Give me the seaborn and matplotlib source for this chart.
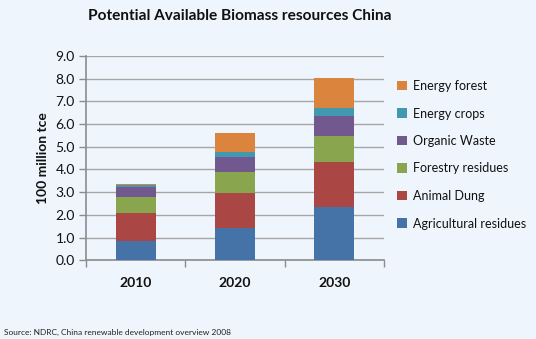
import matplotlib
matplotlib.use("Agg")
import matplotlib.pyplot as plt
from matplotlib.patches import Patch
import numpy as np
import pandas as pd
import seaborn as sns

years = ["2010", "2020", "2030"]
agricultural_residues = [0.87, 1.41, 2.34]
animal_dung = [1.20, 1.56, 1.97]
forestry_residues = [0.72, 0.91, 1.16]
organic_waste = [0.46, 0.65, 0.87]
energy_crops = [0.06, 0.25, 0.35]
energy_forest = [0.06, 0.81, 1.32]

series_names = ["Agricultural residues", "Animal Dung", "Forestry residues",
                "Organic Waste", "Energy crops", "Energy forest"]
series_values = [agricultural_residues, animal_dung, forestry_residues,
                 organic_waste, energy_crops, energy_forest]
series_colors = ["#4572A7", "#AA4643", "#89A54E", "#71588F", "#4198AF", "#DB843D"]

y_ticks = [0.0, 1.0, 2.0, 3.0, 4.0, 5.0, 6.0, 7.0, 8.0, 9.0]

sns.set_theme(style="white")
plt.rcParams["font.family"] = ["Lato", "DejaVu Sans"]

bg = "#EEF5FD"
fig = plt.figure(figsize=(5.36, 3.39), dpi=100, facecolor=bg)
ax = fig.add_axes([0.1604, 0.2322, 0.7164 - 0.1604, 0.8348 - 0.2322])
ax.set_facecolor(bg)

# stacked bars: draw cumulative totals from the top series down
cum = np.cumsum(np.array(series_values), axis=0)
for i in range(len(series_names) - 1, -1, -1):
    df = pd.DataFrame({"year": years, "value": cum[i]})
    sns.barplot(data=df, x="year", y="value", color=series_colors[i],
                saturation=1, width=0.4, ax=ax, zorder=3,
                edgecolor="none", linewidth=0)

ax.set_ylim(0, 9)
ax.set_xlim(-0.5, 2.5)
ax.set_yticks(y_ticks)
ax.set_yticklabels([f"{v:.1f}" for v in y_ticks], fontsize=10, color="#111111")
ax.yaxis.grid(True, color="#A6A6A6", linewidth=1.0, zorder=0)
ax.set_axisbelow(True)

ax.set_xticks([0, 1, 2])
ax.set_xticklabels(years, fontsize=10, fontweight="bold", color="#111111")
ax.set_xticks([-0.5, 0.5, 1.5, 2.5], minor=True)
ax.tick_params(axis="x", which="major", length=0, pad=12)
ax.tick_params(axis="x", which="minor", length=5, width=1, color="#8C8C8C",
               direction="out", bottom=True)
ax.tick_params(axis="y", which="major", length=5, width=1, color="#8C8C8C",
               direction="out", left=True, pad=3)

for side in ["top", "right"]:
    ax.spines[side].set_visible(False)
for side in ["left", "bottom"]:
    ax.spines[side].set_color("#8C8C8C")
    ax.spines[side].set_linewidth(1.2)

ax.set_xlabel("")
ax.set_ylabel("100 million tce", fontsize=10, fontweight="bold", labelpad=5,
              color="#111111")

fig.text(88 / 536, 1 - 16 / 339, "Potential Available Biomass resources China",
         fontsize=11.1, fontweight="bold", va="center", ha="left", color="#111111")
fig.text(4 / 536, 1 - 332 / 339,
         "Source: NDRC, China renewable development overview 2008",
         fontsize=6, va="center", ha="left", color="#222222")

handles = [Patch(facecolor=c, edgecolor="none", label=n)
           for n, c in zip(series_names, series_colors)][::-1]
fig.legend(handles=handles, loc="upper left",
           bbox_to_anchor=(397 / 536, 1 - 80 / 339),
           frameon=False, fontsize=9, handlelength=0.8, handleheight=0.8,
           handletextpad=0.45, labelspacing=1.24, borderaxespad=0,
           borderpad=0, labelcolor="#111111")

fig.savefig("out.png", dpi=100, facecolor=bg)
